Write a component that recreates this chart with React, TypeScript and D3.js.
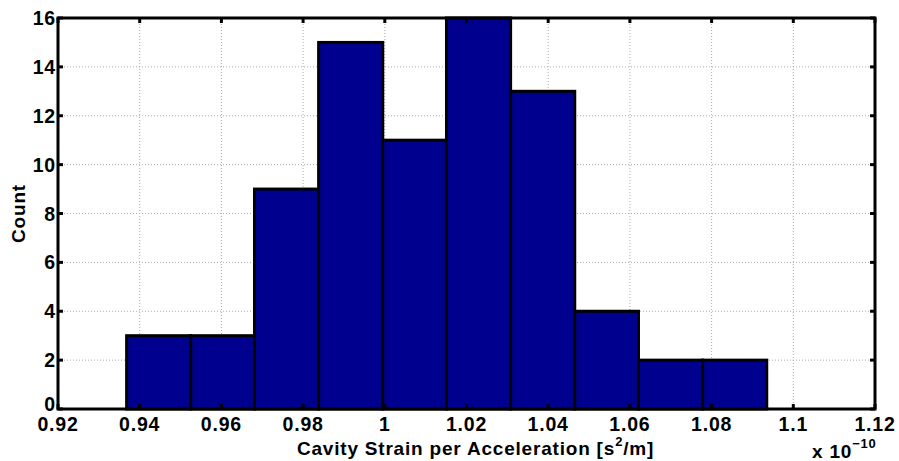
import * as d3 from 'd3';
import React, { useRef, useEffect } from 'react';

// bin edges (x 1e-10) and counts
const binEdges = [0.9368, 0.9525, 0.9681, 0.9838, 0.9995, 1.0151, 1.0308, 1.0465, 1.0621, 1.0778, 1.0935];
const counts = [3, 3, 9, 15, 11, 16, 13, 4, 2, 2];
const xTicks = [0.92, 0.94, 0.96, 0.98, 1.0, 1.02, 1.04, 1.06, 1.08, 1.1, 1.12];
const yTicks = [0, 2, 4, 6, 8, 10, 12, 14, 16];

function App() {
    const ref = useRef<SVGSVGElement>(null);
    const width = 899, height = 461;

    useEffect(() => {
        const svg = d3.select(ref.current);
        svg.selectAll("*").remove();

        const margin = {top: 18, right: 24, bottom: 52, left: 58};
        const w = width - margin.left - margin.right,
            h = height - margin.top - margin.bottom;

        const x = d3.scaleLinear().domain([0.92, 1.12]).range([0, w]);
        const y = d3.scaleLinear().domain([0, 16]).range([h, 0]);

        const g = svg.append("g")
            .attr("transform", "translate(" + margin.left + "," + margin.top + ")");

        // grid
        g.append("g").selectAll("line").data(xTicks.slice(1, -1)).enter().append("line")
            .attr("x1", d => x(d)).attr("x2", d => x(d))
            .attr("y1", 0).attr("y2", h)
            .attr("stroke", "#aaa").attr("stroke-width", 1).attr("stroke-dasharray", "1,2");
        g.append("g").selectAll("line").data(yTicks.slice(1, -1)).enter().append("line")
            .attr("x1", 0).attr("x2", w)
            .attr("y1", d => y(d)).attr("y2", d => y(d))
            .attr("stroke", "#aaa").attr("stroke-width", 1).attr("stroke-dasharray", "1,2");

        // bars
        const bins = counts.map((c, i) => ({x0: binEdges[i], x1: binEdges[i + 1], n: c}));
        g.selectAll("rect.bar").data(bins).enter().append("rect")
            .attr("class", "bar")
            .attr("x", d => x(d.x0))
            .attr("y", d => y(d.n))
            .attr("width", d => x(d.x1) - x(d.x0))
            .attr("height", d => h - y(d.n))
            .attr("fill", "#00008f")
            .attr("stroke", "black")
            .attr("stroke-width", 3);

        // ticks, inward on all four sides
        const tl = 5;
        const ticks = g.append("g").attr("stroke", "black").attr("stroke-width", 3);
        xTicks.forEach(t => {
            ticks.append("line").attr("x1", x(t)).attr("x2", x(t)).attr("y1", h).attr("y2", h - tl);
            ticks.append("line").attr("x1", x(t)).attr("x2", x(t)).attr("y1", 0).attr("y2", tl);
        });
        yTicks.forEach(t => {
            ticks.append("line").attr("x1", 0).attr("x2", tl).attr("y1", y(t)).attr("y2", y(t));
            ticks.append("line").attr("x1", w).attr("x2", w - tl).attr("y1", y(t)).attr("y2", y(t));
        });

        // box
        g.append("rect")
            .attr("x", 0).attr("y", 0).attr("width", w).attr("height", h)
            .attr("fill", "none").attr("stroke", "black").attr("stroke-width", 3);

        const font = "'Liberation Sans', Arial, Helvetica, sans-serif";
        const txt = (sel: any, size: number) => sel
            .attr("font-family", font).attr("font-weight", 700).attr("font-size", size)
            .attr("letter-spacing", 0.8);

        txt(g.append("g").selectAll("text").data(xTicks).enter().append("text")
            .attr("x", d => x(d)).attr("y", h + 22)
            .attr("text-anchor", "middle"), 19.5)
            .text(d => d3.format("~g")(d));

        txt(g.append("g").selectAll("text").data(yTicks).enter().append("text")
            .attr("x", -2).attr("y", d => d === 0 ? y(d) + 2 : y(d) + 7)
            .attr("text-anchor", "end"), 19.5)
            .text(d => d);

        // axis labels
        const xl = txt(g.append("text")
            .attr("x", w / 2 + 9).attr("y", h + 46)
            .attr("text-anchor", "middle"), 19);
        xl.append("tspan").text("Cavity Strain per Acceleration [s");
        xl.append("tspan").attr("dy", -9).attr("font-size", 13).text("2");
        xl.append("tspan").attr("dy", 9).text("/m]");

        txt(g.append("text")
            .attr("transform", "translate(-33," + (h / 2) + ") rotate(-90)")
            .attr("text-anchor", "middle"), 19)
            .text("Count");

        const ex = txt(g.append("text")
            .attr("x", w - 63).attr("y", h + 49), 19);
        ex.append("tspan").text("x 10");
        ex.append("tspan").attr("dy", -10).attr("font-size", 13).text("\u221210");
    }, []);

    return (
        <svg ref={ref} width={width} height={height}
            style={{position: "absolute", left: 0, top: 0, background: "white"}}>
        </svg>
    );
}

export default App;
